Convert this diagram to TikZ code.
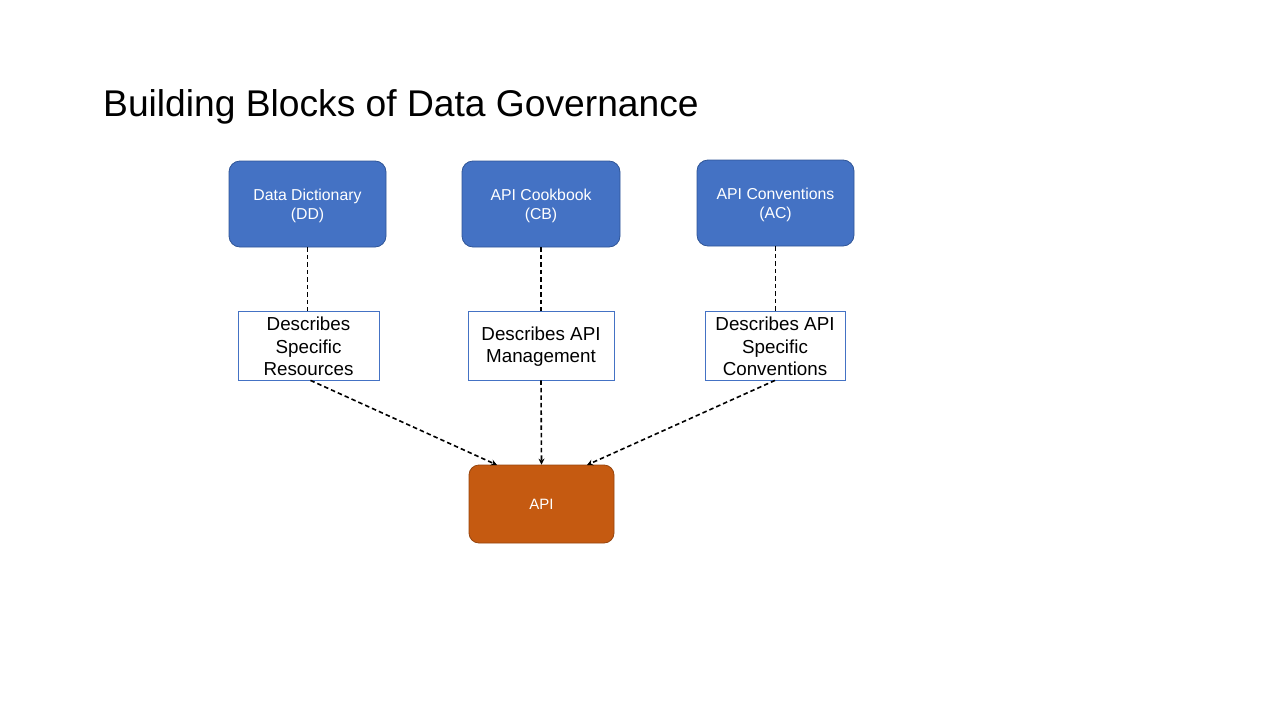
\documentclass[tikz,border=0pt]{standalone}
\usepackage{fontspec}
\setmainfont{Liberation Sans}
\usetikzlibrary{arrows.meta}
\definecolor{bluefill}{HTML}{4472C4}
\definecolor{blueline}{HTML}{2F5597}
\definecolor{orangefill}{HTML}{C55A11}
\definecolor{orangeline}{HTML}{843C0C}
\begin{document}
\begin{tikzpicture}[x=1pt,y=-1pt,
  bluebox/.style={draw=blueline,fill=bluefill,rounded corners=11pt,line width=0.8pt,
    minimum height=86pt,inner sep=0pt},
  bluetext/.style={text=white,font=\fontsize{15.8}{19}\selectfont,align=center,inner sep=0pt},
  descbox/.style={draw=bluefill,fill=white,line width=0.8pt,minimum height=69pt,
    font=\fontsize{18.8}{22.5}\selectfont,align=center,inner sep=0pt},
  apibox/.style={draw=orangeline!70!orangefill,fill=orangefill,rounded corners=10pt,line width=0.8pt,
    text=white,font=\fontsize{15}{18}\selectfont,inner sep=0pt},
  link/.style={line width=1.6pt,dash pattern=on 4.5pt off 3pt},
  arr/.style={link,-{Stealth[length=6pt,width=6pt]}}]
\useasboundingbox (0,0) rectangle (1280,720);
\node[anchor=base west,font=\fontsize{37.2}{44}\selectfont,inner sep=0pt] (title) at (103,116) {Building Blocks of Data Governance};
\node[bluebox,minimum width=157pt] (dd) at (307.5,204) {};
\node[bluebox,minimum width=158pt] (cb) at (541,204) {};
\node[bluebox,minimum width=157pt] (ac) at (775.5,203) {};
\node[bluetext] (ddt) at (307.5,206) {Data Dictionary\\(DD)};
\node[bluetext] (cbt) at (541,206) {API Cookbook\\(CB)};
\node[bluetext] (act) at (775.5,205) {API Conventions\\(AC)};
\node[descbox,minimum width=141pt] (d1) at (308.5,345.5) {};
\node[descbox,minimum width=146pt] (d2) at (541,345.5) {};
\node[descbox,minimum width=140pt] (d3) at (775,345.5) {};
\node[descbox,draw=none,fill=none,minimum height=0pt] (d1t) at (308.5,346.5) {Describes\\Specific\\Resources};
\node[descbox,draw=none,fill=none,minimum height=0pt] (d2t) at (541,346.5) {Describes API\\Management};
\node[descbox,draw=none,fill=none,minimum height=0pt] (d3t) at (775,346.5) {Describes API\\Specific\\Conventions};
\node[apibox,minimum width=145pt,minimum height=78pt] (api) at (541.5,504) {API};
\draw[link] (dd.south) -- (d1.north -| dd.south);
\draw[link] (cb.south) -- (d2.north);
\draw[link] (ac.south) -- (d3.north -| ac.south);
\coordinate (a1) at (497,465);
\coordinate (a3) at (587,465);
\draw[arr] (d1.south) ++(2,0) -- (a1);
\draw[arr] (d2.south) -- (api.north);
\draw[arr] (d3.south) -- (a3);
\end{tikzpicture}
\end{document}
